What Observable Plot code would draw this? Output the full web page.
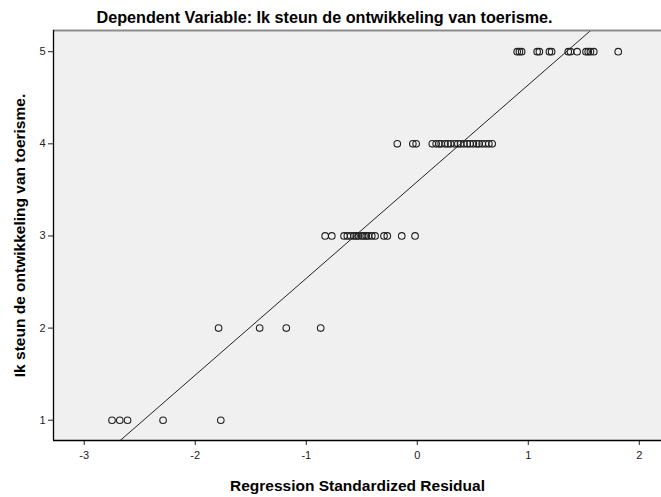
<!DOCTYPE html>
<html>
<head>
<meta charset="utf-8">
<script src="https://cdn.jsdelivr.net/npm/d3@7"></script>
<script src="https://cdn.jsdelivr.net/npm/@observablehq/plot@0.6"></script>
<style>
  body { margin: 0; background: #fff; }
  #chart svg { display: block; }
</style>
</head>
<body>
<div id="chart"></div>
<script>
const levels = [1, 2, 3, 4, 5];
const residualsAt1 = [-2.75, -2.68, -2.61, -2.29, -1.77];
const residualsAt2 = [-1.79, -1.42, -1.18, -0.87];
const residualsAt3 = [-0.83, -0.77, -0.66, -0.63, -0.60, -0.57, -0.55, -0.53, -0.50, -0.48, -0.46, -0.44, -0.41, -0.38, -0.30, -0.27, -0.14, -0.02];
const residualsAt4 = [-0.18, -0.04, -0.01, 0.135, 0.17, 0.195, 0.215, 0.25, 0.275, 0.30, 0.335, 0.365, 0.39, 0.42, 0.45, 0.475, 0.505, 0.535, 0.555, 0.585, 0.615, 0.645, 0.675];
const residualsAt5 = [0.90, 0.92, 0.94, 1.08, 1.10, 1.19, 1.21, 1.36, 1.38, 1.44, 1.52, 1.54, 1.56, 1.59, 1.81];
const xTicks = [-3, -2, -1, 0, 1, 2];
const yTicks = [1, 2, 3, 4, 5];
const fitIntercept = 3.59;
const fitSlope = 1.05;
const titleText = "Dependent Variable: Ik steun de ontwikkeling van toerisme.";
const xLabel = "Regression Standardized Residual";
const yLabel = "Ik steun de ontwikkeling van toerisme.";

const xDomain = [-3.277, 2.2];
const yDomain = [0.78, 5.23];

const groups = [residualsAt1, residualsAt2, residualsAt3, residualsAt4, residualsAt5];
const points = groups.flatMap((g, i) => g.map(r => ({x: r, y: levels[i]})));
const fitLine = xDomain.map(x => ({x, y: fitIntercept + fitSlope * x}));

const font = "'Liberation Sans', Arial, sans-serif";
const fmt = d => String(d);

const chart = Plot.plot({
  width: 661,
  height: 497,
  marginLeft: 53,
  marginRight: 0,
  marginTop: 30,
  marginBottom: 57,
  style: {fontFamily: font, background: "#ffffff", overflow: "visible"},
  x: {domain: xDomain, label: null},
  y: {domain: yDomain, label: null},
  marks: [
    Plot.frame({fill: "#f0f0f0", stroke: "none"}),
    Plot.axisX({ticks: xTicks, tickFormat: fmt, tickSize: 5, tickPadding: 6, fontSize: 11, color: "#222", label: null}),
    Plot.axisY({ticks: yTicks, tickFormat: fmt, tickSize: 5, tickPadding: 3, fontSize: 11, color: "#222", label: null}),
    Plot.line(fitLine, {x: "x", y: "y", stroke: "#222", strokeWidth: 1, clip: true}),
    Plot.dot(points, {x: "x", y: "y", r: 3.3, stroke: "#222", strokeWidth: 1.1, fill: "none"}),
    Plot.ruleY([yDomain[1]], {stroke: "#8c8c8c", strokeWidth: 2}),
    Plot.ruleY([yDomain[0]], {stroke: "#000", strokeWidth: 1.3}),
    Plot.ruleX([xDomain[0]], {stroke: "#000", strokeWidth: 1.3}),
    Plot.text([titleText], {frameAnchor: "top", dx: -33, dy: -19, text: d => d, fontSize: 16.2, fontWeight: "bold", fill: "#000"}),
    Plot.text([xLabel], {frameAnchor: "bottom", dy: 50, text: d => d, fontSize: 15.5, fontWeight: "bold", fill: "#000"}),
    Plot.text([yLabel], {frameAnchor: "left", dx: -33, rotate: -90, textAnchor: "middle", text: d => d, fontSize: 15.5, fontWeight: "bold", fill: "#000"})
  ]
});
document.getElementById("chart").appendChild(chart);
</script>
</body>
</html>
